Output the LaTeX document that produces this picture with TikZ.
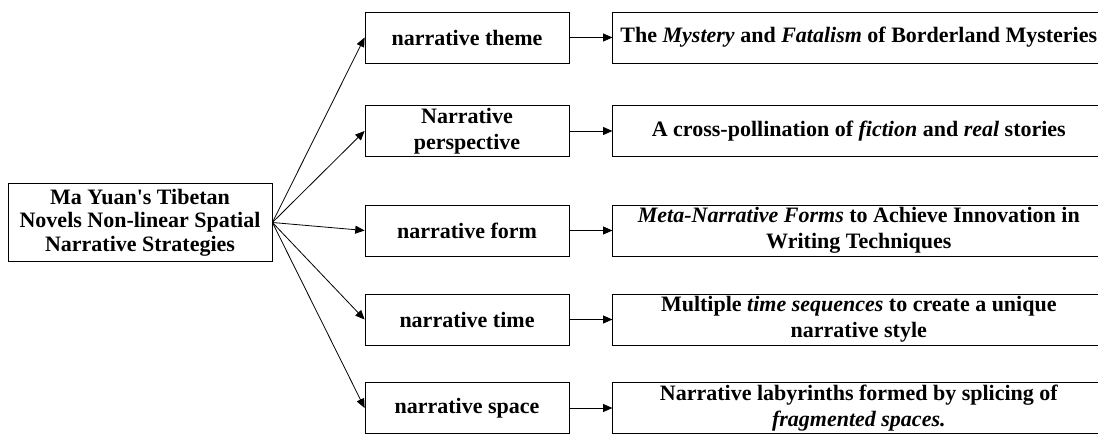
\documentclass[tikz,border=0pt]{standalone}
\usepackage{fontspec}
\setmainfont{Liberation Serif}[Ligatures=TeXOff]
\usetikzlibrary{arrows.meta, positioning}

\tikzset{
	rootbox/.style = {draw, line width=0.6pt, minimum width=198pt, minimum height=59pt, inner sep=1pt, align=center, font=\fontsize{16.5}{17.5}\selectfont\bfseries},
	midbox/.style = {draw, line width=0.6pt, minimum width=153pt, minimum height=38.25pt, inner sep=1pt, align=center, font=\fontsize{16.5}{19.5}\selectfont\bfseries},
	resbox/.style = {midbox, minimum width=369pt},
	link/.style = {arrows = {-Triangle[length=7pt,width=6pt]}, line width=0.6pt}
}

\begin{document}
\begin{tikzpicture}[x=0.75pt, y=-0.75pt]
		\useasboundingbox (0,0) rectangle (1098,434);
		
		\node(root) [rootbox] at (140,222.5) {Ma Yuan's Tibetan \\ Novels Non-linear Spatial \\ Narrative Strategies};
		
		%----------------------------------------------------------------
		\node(theme) [midbox] at (467,37.5) {narrative theme};
		\node(perspective) [midbox] at (467,131) {Narrative \\ perspective};
		\node(form) [midbox] at (467,230.5) {narrative form};
		\node(time) [midbox] at (467,319.5) {narrative time};
		\node(space) [midbox] at (467,408) {narrative space};
		
		%----------------------------------------------------------------
		\node(mystery) [resbox, right=32.25pt of theme] {The \textit{Mystery} and \textit{Fatalism} of Borderland Mysteries};
		\node(fiction) [resbox, right=32.25pt of perspective] {A cross-pollination of \textit{fiction} and \textit{real} stories};
		\node(meta) [resbox, right=32.25pt of form] {\textit{Meta-Narrative Forms} to Achieve Innovation in \\ Writing Techniques};
		\node(sequences) [resbox, right=32.25pt of time] {Multiple \textit{time sequences} to create a unique \\ narrative style};
		\node(labyrinth) [resbox, right=32.25pt of space] {Narrative labyrinths formed by splicing of \\ \textit{fragmented spaces.}};
		
		%----------------------------------------------------------------
		\foreach \m in {theme, perspective, form, time, space}
		\draw [link] (root.east) -- (\m.west);
		
		\draw [link] (theme) -- (mystery);
		\draw [link] (perspective) -- (fiction);
		\draw [link] (form) -- (meta);
		\draw [link] (time) -- (sequences);
		\draw [link] (space) -- (labyrinth);
		
	\end{tikzpicture}
\end{document}
